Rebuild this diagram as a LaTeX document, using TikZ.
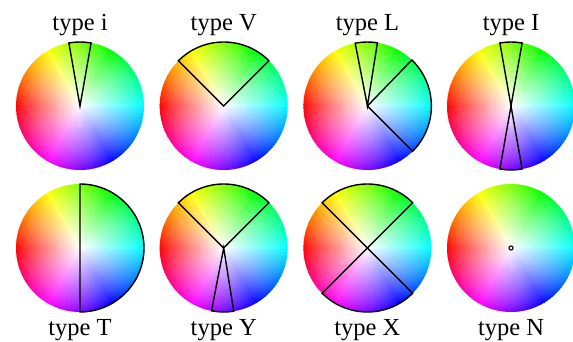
\documentclass[tikz,border=0pt]{standalone}
\usepackage{fontspec}
\setmainfont{Liberation Serif}
\tikzset{
  hwheel/.pic={
    \foreach \i in {0,...,119}{
      \pgfmathsetmacro\h{\i*3}
      \pgfmathsetmacro\aa{180-\h-1.9}
      \pgfmathsetmacro\ab{180-\h+1.9}
      \definecolor{hc}{Hsb}{\h,1,1}
      \fill[hc] (0,0) -- (\aa:64) arc[start angle=\aa, end angle=\ab, radius=64] -- cycle;
    }
    \foreach \k in {32,...,1}{
      \pgfmathsetmacro\wa{(max(0,1-(\k-0.5)/32))^0.85}
      \pgfmathsetmacro\wb{(max(0.00001,1-(\k+0.5)/32))^0.85}
      \pgfmathsetmacro\al{1-(1-\wa)/(1-\wb)}
      \fill[white, fill opacity=\al] (0,0) circle ({2*\k});
    }
  },
  tmpl/.style={draw=black, line width=1.4pt},
  lbl/.style={font=\fontsize{24.5}{26}\selectfont, anchor=base, inner sep=0pt}
}
\begin{document}
\begin{tikzpicture}[x=1pt,y=1pt]
\useasboundingbox (0,0) rectangle (573,342);
% centres
\coordinate (c1) at (80,236);
\coordinate (c2) at (223.7,236);
\coordinate (c3) at (367.4,236);
\coordinate (c4) at (511,236);
\coordinate (c5) at (80,94);
\coordinate (c6) at (223.7,94);
\coordinate (c7) at (367.4,94);
\coordinate (c8) at (511,94);
\foreach \c in {c1,c2,c3,c4,c5,c6,c7,c8}{\pic at (\c) {hwheel};}
% type i
\draw[tmpl, shift={(c1)}] (0,0) -- (80:64) arc[start angle=80, end angle=100, radius=64] -- cycle;
% type V
\draw[tmpl, shift={(c2)}] (0,0) -- (45:64) arc[start angle=45, end angle=135, radius=64] -- cycle;
% type L
\draw[tmpl, shift={(c3)}] (0,0) -- (81:64) arc[start angle=81, end angle=101, radius=64] -- cycle;
\draw[tmpl, shift={(c3)}] (0,0) -- (-45:64) arc[start angle=-45, end angle=46, radius=64] -- cycle;
% type I
\draw[tmpl, shift={(c4)}] (0,0) -- (80:64) arc[start angle=80, end angle=100, radius=64] -- cycle;
\draw[tmpl, shift={(c4)}] (0,0) -- (260:64) arc[start angle=260, end angle=280, radius=64] -- cycle;
% type T
\draw[tmpl, shift={(c5)}] (-90:64) arc[start angle=-90, end angle=90, radius=64] -- cycle;
% type Y
\draw[tmpl, shift={(c6)}] (0,0) -- (45:64) arc[start angle=45, end angle=135, radius=64] -- cycle;
\draw[tmpl, shift={(c6)}] (0,0) -- (259:64) arc[start angle=259, end angle=279, radius=64] -- cycle;
% type X
\draw[tmpl, shift={(c7)}] (0,0) -- (45:64) arc[start angle=45, end angle=135, radius=64] -- cycle;
\draw[tmpl, shift={(c7)}] (0,0) -- (225:64) arc[start angle=225, end angle=315, radius=64] -- cycle;
% type N
\draw[black, line width=1.1pt, fill=white] (c8) circle (2.1);
% labels
\node[lbl] (l1) at (80,311.5) {type i};
\node[lbl] (l2) at (223.7,311.5) {type V};
\node[lbl] (l3) at (367.4,311.5) {type L};
\node[lbl] (l4) at (511,311.5) {type I};
\node[lbl] (l5) at (80,6) {type T};
\node[lbl] (l6) at (223.7,6) {type Y};
\node[lbl] (l7) at (367.4,6) {type X};
\node[lbl] (l8) at (511,6) {type N};
\end{tikzpicture}
\end{document}
